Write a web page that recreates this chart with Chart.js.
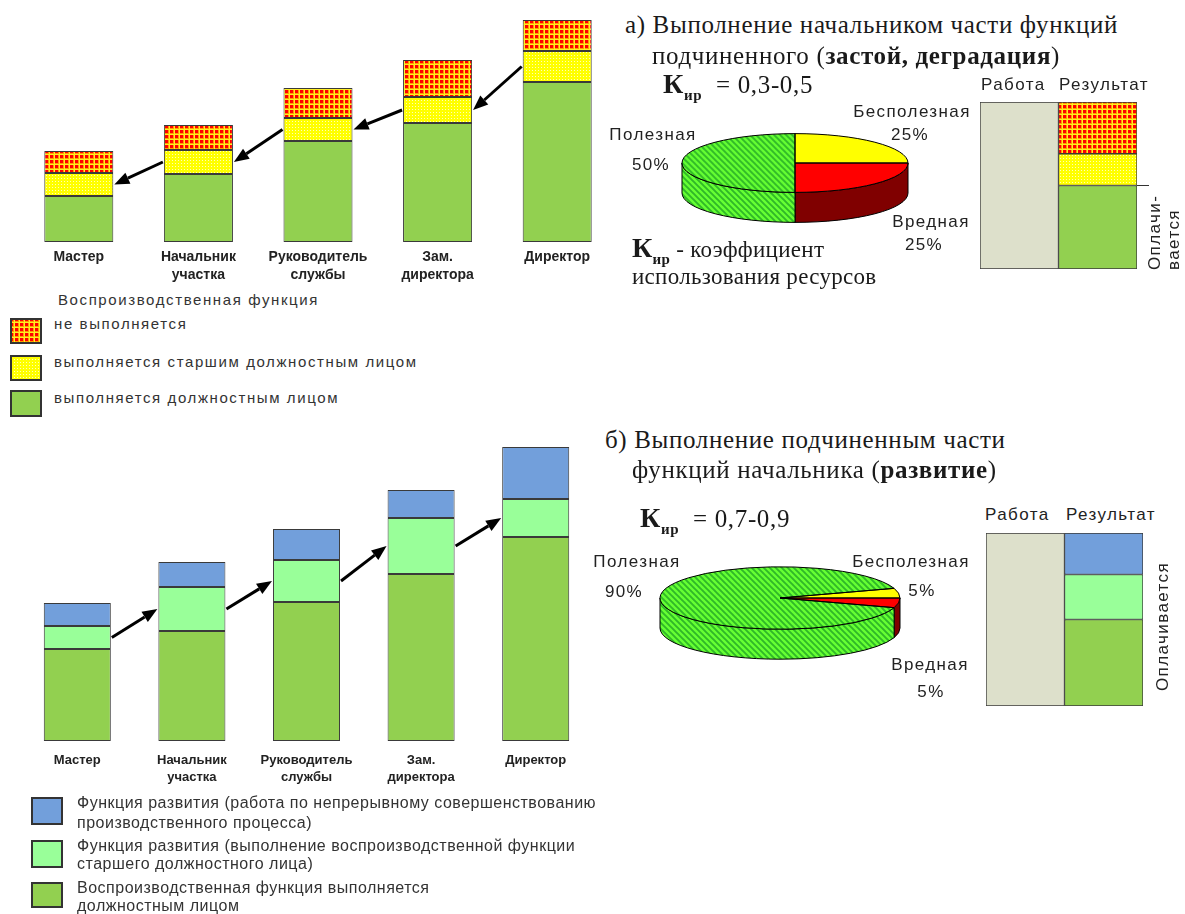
<!DOCTYPE html>
<html>
<head>
<meta charset="utf-8">
<script src="https://cdn.jsdelivr.net/npm/chart.js@4.4.1/dist/chart.umd.min.js"></script>
<style>
body { margin: 0; background: #fff; }
#page { position: relative; width: 1185px; height: 914px; overflow: hidden; font-family: "Liberation Sans", Arial, sans-serif; color: #222; }
canvas { position: absolute; }
.t { position: absolute; white-space: nowrap; line-height: 1.15; }
.serif { font-family: "Liberation Serif", "Times New Roman", serif; font-size: 25px; letter-spacing: 0.65px; color: #1a1a1a; }
.def { font-family: "Liberation Serif", "Times New Roman", serif; font-size: 23px; letter-spacing: 0.3px; color: #1a1a1a; }
.lbl { font-size: 17px; letter-spacing: 1.4px; }
.leg { font-size: 15px; letter-spacing: 1.6px; color: #333; }
.leg2 { font-size: 16px; letter-spacing: 0.5px; color: #333; }
.k { font-weight: bold; font-size: 28px; }
.sub { font-weight: bold; font-size: 15px; position: relative; top: 7px; }
.rot { position: absolute; transform-origin: left top; transform: rotate(-90deg); font-size: 17px; line-height: 19px; letter-spacing: 1.4px; white-space: nowrap; }
</style>
</head>
<body>
<div id="page">
  <canvas id="upper" width="620" height="290" style="left:0px;top:0px"></canvas>
  <canvas id="lower" width="600" height="370" style="left:0px;top:430px"></canvas>
  <canvas id="pieA" width="240" height="240" style="left:675px;top:43px"></canvas>
  <canvas id="pieB" width="254" height="254" style="left:653px;top:471px"></canvas>
  <canvas id="resA" width="175" height="171" style="left:978px;top:100px"></canvas>
  <canvas id="resB" width="175" height="177" style="left:984px;top:531px"></canvas>
</div>
<script>
// --- data ---
const posts = [["Мастер"], ["Начальник", "участка"], ["Руководитель", "службы"], ["Зам.", "директора"], ["Директор"]];

// a) reproductive function by post
const ownDuty = [46, 68, 101, 119, 160];      // выполняется должностным лицом
const bySenior = [23, 24, 23, 26, 31];        // выполняется старшим должностным лицом
const notDone = [22, 25, 30, 37, 31];         // не выполняется

// b) development
const ownDutyB = [92, 110, 139, 167, 204];    // воспроизводственная функция
const seniorDuty = [23, 44, 42, 56, 38];      // функция старшего должностного лица
const improvement = [23, 25, 31, 28, 52];     // совершенствование процесса

const pieLabels = ["Бесполезная", "Вредная", "Полезная"];
const pieShareA = [25, 25, 50];
const pieShareB = [5, 5, 90];

const resultCats = ["Работа", "Результат"];
const workTotal = 100;
const resultA = { paid: 50, senior: 19, lost: 31 };
const resultB = { paid: 50, senior: 26, develop: 24 };

// --- colours / fills ---
const GREEN = '#92d050', LIGHT = '#99ff99', BLUE = '#729fdb', WORK = '#dde0cb', EDGE = '#3a3a3a';

function tile(w, h, draw) {
  const c = document.createElement('canvas');
  c.width = w; c.height = h;
  draw(c.getContext('2d'));
  return c;
}
const scratch = document.createElement('canvas').getContext('2d');
const gridTile = tile(5, 5, g => {
  g.fillStyle = '#ff0000'; g.fillRect(0, 0, 5, 5);
  g.fillStyle = '#ff9a00'; g.fillRect(3, 0, 1, 5); g.fillRect(0, 3, 5, 1);
  g.fillStyle = '#ffee22'; g.fillRect(4, 0, 1, 5); g.fillRect(0, 4, 5, 1);
});
const dotTile = tile(3, 3, g => {
  g.fillStyle = '#ffff00'; g.fillRect(0, 0, 3, 3);
  g.fillStyle = '#ffffb8'; g.fillRect(1, 1, 1, 1);
});
const hatchTile = tile(6, 6, g => {
  g.fillStyle = '#66ff33'; g.fillRect(0, 0, 6, 6);
  g.strokeStyle = '#30b828'; g.lineWidth = 1.9;
  g.beginPath();
  g.moveTo(-1, -1); g.lineTo(7, 7);
  g.moveTo(-7, -1); g.lineTo(1, 7);
  g.moveTo(5, -1); g.lineTo(13, 7);
  g.stroke();
});
const grid = scratch.createPattern(gridTile, 'repeat');
const dots = scratch.createPattern(dotTile, 'repeat');
const hatch = scratch.createPattern(hatchTile, 'repeat');

const FLAT = 0.26;
const hatchTop = scratch.createPattern(hatchTile, 'repeat');
hatchTop.setTransform(new DOMMatrix().scale(1, 1 / FLAT));

// --- plugins ---
function drawArrow(ctx, from, to) {
  const ang = Math.atan2(to.y - from.y, to.x - from.x);
  const head = 15, half = 6;
  const bx = to.x - head * Math.cos(ang), by = to.y - head * Math.sin(ang);
  ctx.beginPath();
  ctx.moveTo(from.x, from.y);
  ctx.lineTo(bx, by);
  ctx.stroke();
  ctx.beginPath();
  ctx.moveTo(to.x, to.y);
  ctx.lineTo(bx + half * Math.sin(ang), by - half * Math.cos(ang));
  ctx.lineTo(bx - half * Math.sin(ang), by + half * Math.cos(ang));
  ctx.closePath();
  ctx.fill();
}

// arrows between the middle bands of neighbouring bars
const arrows = {
  id: 'arrows',
  afterDatasetsDraw(chart, args, opts) {
    const bars = chart.getDatasetMeta(opts.band).data;
    const ctx = chart.ctx;
    ctx.save();
    ctx.strokeStyle = '#000'; ctx.fillStyle = '#000'; ctx.lineWidth = 3;
    for (let i = 0; i < bars.length - 1; i++) {
      const a = bars[i], b = bars[i + 1];
      const left = { x: a.x + a.width / 2 + 1, y: (a.y + a.base) / 2 };
      const right = { x: b.x - b.width / 2 - 1, y: (b.y + b.base) / 2 };
      if (opts.down) drawArrow(ctx, right, left);
      else drawArrow(ctx, left, right);
    }
    ctx.restore();
  }
};

// flattened pie with a visible front wall
const pie3d = {
  id: 'pie3d',
  beforeDatasetsDraw(chart, args, opts) {
    const ctx = chart.ctx;
    const arcs = chart.getDatasetMeta(0).data;
    const { x: cx, y: cy, outerRadius: r } = arcs[0];
    ctx.save();
    ctx.lineWidth = 1; ctx.strokeStyle = '#000';
    arcs.forEach((arc, i) => {
      for (const shift of [-2 * Math.PI, 0, 2 * Math.PI]) {
        const a1 = Math.max(arc.startAngle + shift, 0);
        const a2 = Math.min(arc.endAngle + shift, Math.PI);
        if (a2 <= a1) continue;
        ctx.beginPath();
        ctx.ellipse(cx, cy, r, r * FLAT, 0, a1, a2);
        ctx.ellipse(cx, cy + opts.depth, r, r * FLAT, 0, a2, a1, true);
        ctx.closePath();
        ctx.fillStyle = opts.sides[i];
        ctx.fill();
        ctx.stroke();
      }
    });
    ctx.restore();
    ctx.save();
    ctx.translate(cx, cy);
    ctx.scale(1, FLAT);
    ctx.translate(-cx, -cy);
  },
  afterDatasetsDraw(chart) {
    const ctx = chart.ctx;
    ctx.restore();
    const arcs = chart.getDatasetMeta(0).data;
    ctx.save();
    ctx.lineWidth = 1; ctx.strokeStyle = '#000';
    arcs.forEach(arc => {
      ctx.beginPath();
      ctx.moveTo(arc.x, arc.y);
      ctx.ellipse(arc.x, arc.y, arc.outerRadius, arc.outerRadius * FLAT, 0, arc.startAngle, arc.endAngle);
      ctx.closePath();
      ctx.stroke();
    });
    ctx.restore();
  }
};

// short mark on the right where the paid part ends
const paidMark = {
  id: 'paidMark',
  afterDatasetsDraw(chart, args, opts) {
    if (!opts.show) return;
    const bar = chart.getDatasetMeta(1).data[1];
    const ctx = chart.ctx;
    ctx.save();
    ctx.strokeStyle = '#333'; ctx.lineWidth = 1;
    ctx.beginPath();
    ctx.moveTo(bar.x + bar.width / 2, bar.y);
    ctx.lineTo(bar.x + bar.width / 2 + 12, bar.y);
    ctx.stroke();
    ctx.restore();
  }
};

const barBase = { borderColor: EDGE, borderWidth: 1, borderSkipped: false, categoryPercentage: 1 };

function postChart(id, sets, opts) {
  return new Chart(document.getElementById(id), {
    type: 'bar',
    data: { labels: posts, datasets: sets.map(s => Object.assign({}, barBase, { barPercentage: opts.bar }, s)) },
    options: {
      responsive: false, animation: false, events: [],
      layout: { padding: opts.pad },
      plugins: { legend: { display: false }, tooltip: { enabled: false }, arrows: { band: 1, down: opts.down } },
      scales: {
        x: {
          stacked: true,
          grid: { display: false, drawTicks: false },
          border: { display: false },
          ticks: {
            color: '#222', padding: opts.tickPad, maxRotation: 0, autoSkip: false,
            font: { family: 'Liberation Sans', size: opts.font, weight: 'bold', lineHeight: 1.3 }
          },
          afterFit: s => { s.height = opts.axis; }
        },
        y: { stacked: true, display: false, min: 0, max: opts.max }
      }
    },
    plugins: [arrows]
  });
}

postChart('upper', [
  { label: 'выполняется должностным лицом', data: ownDuty, backgroundColor: GREEN },
  { label: 'выполняется старшим должностным лицом', data: bySenior, backgroundColor: dots },
  { label: 'не выполняется', data: notDone, backgroundColor: grid }
], { pad: { top: 10, left: 19, right: 3, bottom: 0 }, axis: 48, max: 232, bar: 0.577, down: true, tickPad: 6, font: 14 });

postChart('lower', [
  { label: 'Воспроизводственная функция', data: ownDutyB, backgroundColor: GREEN },
  { label: 'Функция старшего должностного лица', data: seniorDuty, backgroundColor: LIGHT },
  { label: 'Совершенствование процесса', data: improvement, backgroundColor: BLUE }
], { pad: { top: 10, left: 20, right: 7, bottom: 0 }, axis: 59, max: 301, bar: 0.585, down: false, tickPad: 11, font: 13 });

function pieChart(id, values, rotation, sides) {
  return new Chart(document.getElementById(id), {
    type: 'pie',
    data: {
      labels: pieLabels,
      datasets: [{ data: values, backgroundColor: ['#ffff00', '#ff0000', hatchTop], borderWidth: 0 }]
    },
    options: {
      responsive: false, animation: false, events: [], rotation: rotation,
      layout: { padding: 7 },
      plugins: { legend: { display: false }, tooltip: { enabled: false }, pie3d: { depth: 30, sides: sides } }
    },
    plugins: [pie3d]
  });
}
pieChart('pieA', pieShareA, 0, ['#999900', '#800000', hatch]);
pieChart('pieB', pieShareB, 72, ['#999900', '#800000', hatch]);

function resultChart(id, layers, mark) {
  const sets = [{ data: [workTotal, null], backgroundColor: WORK }].concat(
    layers.map(l => ({ data: [null, l.value], backgroundColor: l.color })));
  return new Chart(document.getElementById(id), {
    type: 'bar',
    data: { labels: resultCats, datasets: sets.map(s => Object.assign({}, barBase, { barPercentage: 1 }, s)) },
    options: {
      responsive: false, animation: false, events: [],
      layout: { padding: { top: 2, left: 2, bottom: 2, right: 16 } },
      plugins: { legend: { display: false }, tooltip: { enabled: false }, paidMark: { show: mark } },
      scales: {
        x: { stacked: true, display: false },
        y: { stacked: true, display: false, min: 0, max: workTotal }
      }
    },
    plugins: [paidMark]
  });
}
resultChart('resA', [
  { value: resultA.paid, color: GREEN },
  { value: resultA.senior, color: dots },
  { value: resultA.lost, color: grid }
], true);
resultChart('resB', [
  { value: resultB.paid, color: GREEN },
  { value: resultB.senior, color: LIGHT },
  { value: resultB.develop, color: BLUE }
], false);

// --- text and legends ---
const page = document.getElementById('page');
function txt(html, x, y, cls, center) {
  const d = document.createElement('div');
  d.className = 't ' + cls;
  d.innerHTML = html;
  d.style.left = x + 'px';
  d.style.top = y + 'px';
  d.style.transform = center ? 'translate(-50%,-50%)' : 'translate(0,-50%)';
  page.appendChild(d);
  return d;
}
function swatch(x, y, w, h, fill) {
  const c = document.createElement('canvas');
  c.width = w; c.height = h;
  c.style.left = x + 'px'; c.style.top = y + 'px';
  const g = c.getContext('2d');
  g.fillStyle = fill; g.fillRect(0, 0, w, h);
  g.strokeStyle = '#333'; g.lineWidth = 2; g.strokeRect(1, 1, w - 2, h - 2);
  page.appendChild(c);
}
function rot(html, x, y) {
  const d = document.createElement('div');
  d.className = 'rot';
  d.innerHTML = html;
  d.style.left = x + 'px';
  d.style.top = y + 'px';
  page.appendChild(d);
}

const kir = '<span class="k">К</span><span class="sub">ир</span>';

// a)
txt('а) Выполнение начальником части функций', 625, 25, 'serif');
txt('подчиненного (<b>застой, деградация</b>)', 652, 56, 'serif');
txt(kir + '&nbsp; = 0,3-0,5', 663, 84, 'serif');
txt(kir + ' - коэффициент', 632, 248, 'def');
txt('использования ресурсов', 632, 277, 'def');
txt(pieLabels[2], 653, 135, 'lbl', true);
txt(pieShareA[2] + '%', 651, 165, 'lbl', true);
txt(pieLabels[0], 912, 112, 'lbl', true);
txt(pieShareA[0] + '%', 910, 135, 'lbl', true);
txt(pieLabels[1], 931, 222, 'lbl', true);
txt(pieShareA[1] + '%', 924, 245, 'lbl', true);
txt(resultCats[0], 981, 85, 'lbl');
txt(resultCats[1], 1059, 85, 'lbl');
rot('Оплачи-<br>вается', 1145, 270);

txt('Воспроизводственная функция', 58, 300, 'leg');
swatch(10, 318, 32, 26, grid);
txt('не выполняется', 54, 324, 'leg');
swatch(10, 355, 32, 26, dots);
txt('выполняется старшим должностным лицом', 54, 362, 'leg');
swatch(10, 390, 32, 27, GREEN);
txt('выполняется должностным лицом', 54, 398, 'leg');

// b)
txt('б) Выполнение подчиненным части', 605, 440, 'serif');
txt('функций начальника (<b>развитие</b>)', 632, 470, 'serif');
txt(kir + '&nbsp; = 0,7-0,9', 640, 518, 'serif');
txt(pieLabels[2], 637, 562, 'lbl', true);
txt(pieShareB[2] + '%', 624, 592, 'lbl', true);
txt(pieLabels[0], 911, 562, 'lbl', true);
txt(pieShareB[0] + '%', 922, 591, 'lbl', true);
txt(pieLabels[1], 930, 665, 'lbl', true);
txt(pieShareB[1] + '%', 931, 692, 'lbl', true);
txt(resultCats[0], 985, 515, 'lbl');
txt(resultCats[1], 1066, 515, 'lbl');
rot('Оплачивается', 1153, 691);

swatch(31, 797, 32, 28, BLUE);
txt('Функция развития (работа по непрерывному совершенствованию', 77, 803, 'leg2');
txt('производственного процесса)', 77, 823, 'leg2');
swatch(31, 840, 32, 28, LIGHT);
txt('Функция развития (выполнение воспроизводственной функции', 77, 846, 'leg2');
txt('старшего должностного лица)', 77, 864, 'leg2');
swatch(31, 882, 32, 26, GREEN);
txt('Воспроизводственная функция выполняется', 77, 888, 'leg2');
txt('должностным лицом', 77, 906, 'leg2');
</script>
</body>
</html>
